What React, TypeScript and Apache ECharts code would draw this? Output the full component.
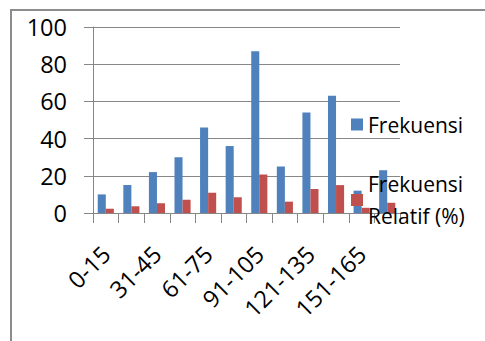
import React, { useEffect, useRef } from 'react';
import * as echarts from 'echarts';

const categories = ['0-15', '16-30', '31-45', '46-60', '61-75', '76-90', '91-105', '106-120', '121-135', '136-150', '151-165', '166-180'];
const frekuensi = [10, 15, 22, 30, 46, 36, 87, 25, 54, 63, 12, 23];
const frekuensiRelatif = [2.3, 3.6, 5.3, 7.1, 10.9, 8.5, 20.7, 6.1, 12.9, 15.0, 2.8, 5.5];
const seriesNames = ['Frekuensi', 'Frekuensi Relatif (%)'];
const yMin = 0;
const yMax = 100;
const yStep = 20;

const FONT = "'Open Sans', 'Noto Sans', sans-serif";
const GRAY = '#878787';

export default function App() {
  const ref = useRef<HTMLDivElement>(null);
  useEffect(() => {
    if (!ref.current) return;
    const chart = echarts.init(ref.current, null, { renderer: 'svg' });
    chart.setOption({
      animation: false,
      backgroundColor: '#ffffff',
      graphic: [
        {
          type: 'rect',
          z: -10,
          shape: { x: 11, y: 10, width: 700, height: 600 },
          style: { fill: 'none', stroke: '#8c8c8c', lineWidth: 2 },
        },
      ],
      grid: { left: 93, top: 27, width: 307, height: 186 },
      legend: [
        {
          data: [seriesNames[0]],
          left: 351,
          top: 108.5,
          padding: 0,
          orient: 'vertical',
          icon: 'rect',
          itemWidth: 12,
          itemHeight: 12,
          selectedMode: false,
          textStyle: { fontFamily: FONT, fontSize: 21, color: '#000', lineHeight: 32 },
        },
        {
          data: [seriesNames[1]],
          left: 351,
          top: 152,
          padding: 0,
          orient: 'vertical',
          icon: 'rect',
          itemWidth: 12,
          itemHeight: 12,
          selectedMode: false,
          formatter: (name: string) => name.replace(' ', '\n'),
          textStyle: { fontFamily: FONT, fontSize: 21, color: '#000', lineHeight: 32, padding: [32, 0, 0, 0] },
        },
      ],
      xAxis: {
        type: 'category',
        data: categories,
        boundaryGap: true,
        axisLine: { show: true, lineStyle: { color: GRAY, width: 1 } },
        axisTick: { show: true, interval: 0, length: 10, lineStyle: { color: GRAY } },
        axisLabel: {
          interval: 1,
          rotate: 45,
          margin: 37,
          fontFamily: FONT,
          fontSize: 23.5,
          color: '#000',
        },
        splitLine: { show: false },
      },
      yAxis: {
        type: 'value',
        min: yMin,
        max: yMax,
        interval: yStep,
        axisLine: { show: true, lineStyle: { color: GRAY, width: 1 } },
        axisTick: { show: true, length: 9, lineStyle: { color: GRAY } },
        axisLabel: { margin: 26, fontFamily: FONT, fontSize: 23.5, color: '#000' },
        splitLine: { show: true, lineStyle: { color: GRAY, width: 1 } },
      },
      series: [
        {
          name: seriesNames[0],
          type: 'bar',
          data: frekuensi,
          itemStyle: { color: '#4F81BD' },
          barGap: '0%',
          barCategoryGap: '37%',
        },
        {
          name: seriesNames[1],
          type: 'bar',
          data: frekuensiRelatif,
          itemStyle: { color: '#C0504D' },
          barGap: '0%',
          barCategoryGap: '37%',
        },
      ],
    });
    return () => chart.dispose();
  }, []);
  return <div ref={ref} style={{ position: 'fixed', left: 0, top: 0, width: 485, height: 341 }} />;
}
